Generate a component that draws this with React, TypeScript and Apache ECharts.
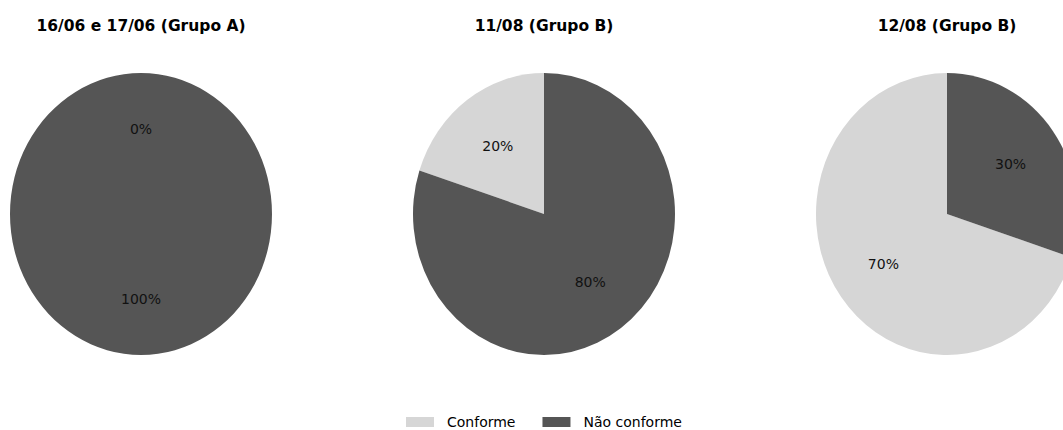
import React, { useEffect, useRef } from "react";
import * as echarts from "echarts";

const categories = ["Conforme", "Não conforme"];
const titles = ["16/06 e 17/06 (Grupo A)", "11/08 (Grupo B)", "12/08 (Grupo B)"];
const grupoA = [0, 100];
const dia1108 = [20, 80];
const dia1208 = [70, 30];
const colors = ["#d6d6d6", "#555555"];

const FONT = "DejaVu Sans";

export default function App() {
  const ref = useRef<HTMLDivElement>(null);
  useEffect(() => {
    if (!ref.current) return;
    const chart = echarts.init(ref.current, null, { renderer: "svg" });
    const charts = [grupoA, dia1108, dia1208];
    const centers = [141, 544, 947];
    const CY = 214;
    const RX = 131;
    const RY = 141;

    const series = categories.map((cat, k) => ({
      type: "custom",
      name: cat,
      coordinateSystem: "none",
      silent: true,
      itemStyle: { color: colors[k] },
      data: charts.map((vals, i) => [i, vals[k]]),
      renderItem: (params: any, api: any) => {
        const i = api.value(0);
        const v = api.value(1);
        const vals = charts[i];
        const total = vals.reduce((a, b) => a + b, 0);
        let cum = 0;
        for (let j = 0; j < k; j++) cum += vals[j];
        const a0 = -Math.PI / 2 - ((cum + v) / total) * Math.PI * 2;
        const a1 = -Math.PI / 2 - (cum / total) * Math.PI * 2;
        const mid = -Math.PI / 2 - ((cum + v / 2) / total) * Math.PI * 2;
        const cx = centers[i];
        return {
          type: "group",
          children: [
            {
              type: "sector",
              x: cx,
              y: CY,
              scaleY: RY / RX,
              shape: { cx: 0, cy: 0, r0: 0, r: RX, startAngle: a0, endAngle: a1, clockwise: true },
              style: { fill: api.visual("color"), stroke: "none" },
              z2: 1,
            },
            {
              type: "text",
              x: cx + 0.6 * RX * Math.cos(mid),
              y: CY + 0.6 * RY * Math.sin(mid),
              z2: 100,
              style: {
                text: Math.round((v / total) * 100) + "%",
                fontFamily: FONT,
                fontSize: 14,
                fill: "#111",
                align: "center",
                verticalAlign: "middle",
              },
            },
          ],
        };
      },
    }));

    chart.setOption({
      animation: false,
      color: colors,
      title: titles.map((t, i) => ({
        text: t,
        left: centers[i],
        top: 18,
        padding: 0,
        textAlign: "center",
        textStyle: { fontFamily: FONT, fontSize: 15.5, fontWeight: "bold", color: "#000" },
      })),
      legend: {
        data: categories,
        left: 406,
        top: 415,
        padding: 0,
        itemWidth: 28,
        itemHeight: 10,
        itemGap: 27,
        icon: "rect",
        selectedMode: false,
        textStyle: { fontFamily: FONT, fontSize: 14, color: "#000", padding: [0, 0, 0, 8] },
      },
      series,
    });
    return () => chart.dispose();
  }, []);
  return (
    <div
      ref={ref}
      style={{ position: "fixed", left: 0, top: 0, width: 1063, height: 430, background: "#fff" }}
    />
  );
}
